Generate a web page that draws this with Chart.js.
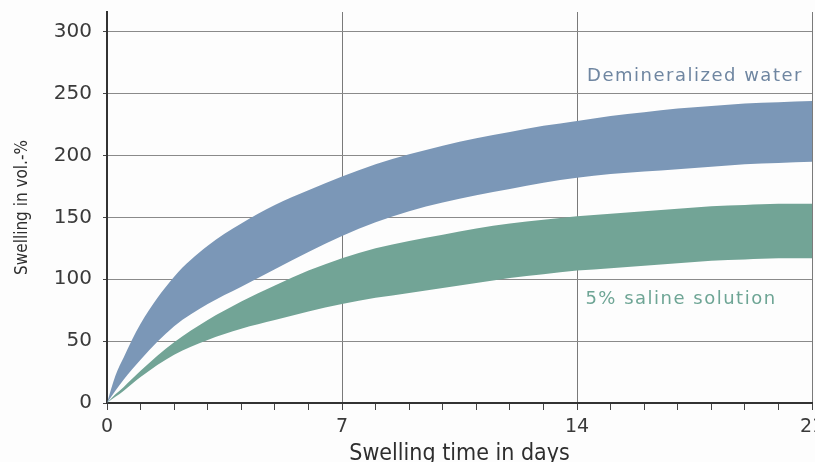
<!DOCTYPE html>
<html lang="en">
<head>
    <meta charset="UTF-8">
    <title>Swelling in vol.-%</title>
    <script src="https://cdn.jsdelivr.net/npm/chart.js"></script>
    <style>
        body {
            margin: 0;
            background-color: #fdfdfd;
            overflow: hidden;
        }
        .chart-box {
            width: 840px;
            height: 476px;
        }
    </style>
</head>
<body>
    <div class="chart-box">
        <canvas id="chart"></canvas>
    </div>

    <script>
        // days on the x axis
        const days = [0, 0.25, 0.5, 1, 2, 3, 4, 5, 6, 7, 8, 9, 10, 11, 12, 13, 14, 15, 16, 17, 18, 19, 20, 21];

        // demineralized water band (upper / lower edge)
        const waterHigh = [0, 22, 37, 64, 102, 127, 145, 160, 172, 183, 193, 201, 208, 214, 219, 224, 228, 232, 235, 238, 240, 242, 243, 244];
        const waterLow  = [0, 10, 19, 35, 62, 80, 94, 108, 122, 135, 146, 155, 162, 168, 173, 178, 182, 185, 187, 189, 191, 193, 194, 195];

        // 5% saline solution band (upper / lower edge)
        const salineHigh = [0, 7, 13, 26, 49, 67, 82, 95, 107, 117, 125, 131, 136, 141, 145, 148, 151, 153, 155, 157, 159, 160, 161, 161];
        const salineLow  = [0, 5, 10, 21, 39, 51, 60, 67, 74, 80, 85, 89, 93, 97, 101, 104, 107, 109, 111, 113, 115, 116, 117, 117];

        const yTicks = [0, 50, 100, 150, 200, 250, 300];
        const xLabels = [0, 7, 14, 21];

        const blue = 'rgb(123, 151, 183)';
        const green = 'rgb(114, 164, 150)';

        function pts(values) {
            return days.map((d, i) => ({ x: d, y: values[i] }));
        }

        const bandLine = {
            borderWidth: 0,
            pointRadius: 0,
            cubicInterpolationMode: 'monotone'
        };

        // text labels next to the bands
        const bandLabels = {
            id: 'bandLabels',
            afterDatasetsDraw(chart) {
                const { ctx, scales } = chart;
                ctx.save();
                ctx.font = '18px "DejaVu Sans"';
                ctx.letterSpacing = '1.5px';
                ctx.textBaseline = 'middle';
                ctx.fillStyle = '#6f86a1';
                ctx.fillText('Demineralized water', scales.x.getPixelForValue(14.3), scales.y.getPixelForValue(264));
                ctx.fillStyle = '#6ea595';
                ctx.fillText('5% saline solution', scales.x.getPixelForValue(14.25), scales.y.getPixelForValue(84));
                ctx.restore();
            }
        };

        const ctx = document.getElementById('chart').getContext('2d');
        new Chart(ctx, {
            type: 'line',
            data: {
                datasets: [
                    { ...bandLine, data: pts(waterHigh), backgroundColor: blue, fill: '+1' },
                    { ...bandLine, data: pts(waterLow), backgroundColor: blue, fill: false },
                    { ...bandLine, data: pts(salineHigh), backgroundColor: green, fill: '+1' },
                    { ...bandLine, data: pts(salineLow), backgroundColor: green, fill: false }
                ]
            },
            options: {
                responsive: true,
                maintainAspectRatio: false,
                animation: false,
                layout: {
                    padding: { top: 12, right: 28, left: 0, bottom: 0 }
                },
                plugins: {
                    legend: { display: false },
                    tooltip: { enabled: false }
                },
                scales: {
                    x: {
                        type: 'linear',
                        min: 0,
                        max: 21,
                        afterFit: scale => { scale.height = 73; },
                        ticks: {
                            stepSize: 1,
                            autoSkip: false,
                            maxRotation: 0,
                            padding: 6,
                            color: '#3a3a3a',
                            font: { family: 'DejaVu Sans', size: 19 },
                            callback: v => xLabels.includes(v) ? String(v) : ''
                        },
                        grid: {
                            color: c => (c.tick && xLabels.includes(c.tick.value) && c.tick.value !== 0) ? '#7a7a7a' : 'transparent',
                            tickColor: '#444',
                            tickLength: 7,
                            lineWidth: 1
                        },
                        border: { color: '#333', width: 2 },
                        title: {
                            display: true,
                            text: 'Swelling time in days',
                            color: '#2e2e2e',
                            font: { family: 'DejaVu Sans Condensed', size: 23 },
                            padding: { top: 0, bottom: 8 }
                        }
                    },
                    y: {
                        min: 0,
                        max: 316,
                        afterFit: scale => {
                            scale.width = 107;
                            scale.paddingTop = 0;
                            scale.paddingBottom = 0;
                        },
                        afterBuildTicks: axis => {
                            axis.ticks = yTicks.map(v => ({ value: v }));
                        },
                        ticks: {
                            padding: 11,
                            color: '#3a3a3a',
                            font: { family: 'DejaVu Sans', size: 20 }
                        },
                        grid: {
                            color: c => c.tick && c.tick.value === 0 ? 'transparent' : '#8a8a8a',
                            tickColor: '#444',
                            tickLength: 4,
                            lineWidth: 1
                        },
                        border: { color: '#333', width: 2 },
                        title: {
                            display: true,
                            text: 'Swelling in vol.-%',
                            color: '#2e2e2e',
                            font: { family: 'DejaVu Sans Condensed', size: 17 },
                            padding: { top: 12, bottom: 0 }
                        }
                    }
                }
            },
            plugins: [bandLabels]
        });
    </script>
</body>
</html>
